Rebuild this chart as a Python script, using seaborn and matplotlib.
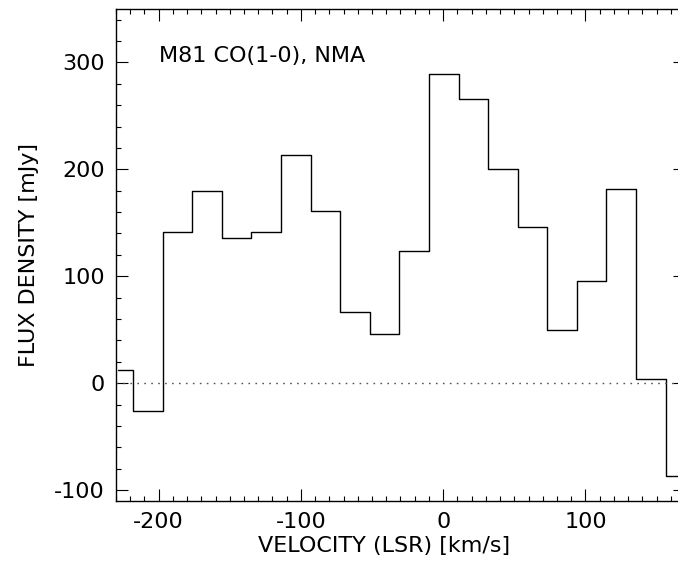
import matplotlib
matplotlib.use("Agg")
import matplotlib.pyplot as plt
import seaborn as sns
from matplotlib.ticker import MultipleLocator

# channel centres (km/s) and flux densities (mJy)
velocity = [-228.4, -207.6, -186.8, -166.0, -145.2, -124.4, -103.6, -82.8, -62.0, -41.2,
            -20.4, 0.4, 21.2, 42.0, 62.8, 83.6, 104.4, 125.2, 146.0, 166.8]
flux = [12, -26, 141, 180, 136, 141, 213, 161, 67, 46,
        124, 289, 266, 200, 146, 50, 96, 182, 4, -87]

x_ticks = [-200, -100, 0, 100]
y_ticks = [-100, 0, 100, 200, 300]

sns.set_theme(style="ticks")
plt.rcParams['font.family'] = ['DejaVu Sans']
plt.rcParams['axes.unicode_minus'] = False
plt.rcParams['text.color'] = 'black'
plt.rcParams['axes.labelcolor'] = 'black'
plt.rcParams['xtick.color'] = 'black'
plt.rcParams['ytick.color'] = 'black'

fig = plt.figure(figsize=(6.78, 5.71), dpi=100)
ax = fig.add_axes([0.1711, 0.1231, 0.8392, 0.8611])

sns.lineplot(x=velocity, y=flux, drawstyle='steps-mid', color='black', lw=1.0, ax=ax)
ax.axhline(0, color='#555555', lw=1.0, ls=(0, (1.2, 3.8)))

ax.set_xlim(-230, 170)
ax.set_ylim(-110, 350)
ax.set_xticks(x_ticks)
ax.set_yticks(y_ticks)
ax.xaxis.set_minor_locator(MultipleLocator(10))
ax.yaxis.set_minor_locator(MultipleLocator(20))
ax.tick_params(which='both', direction='in', top=True, right=True, width=0.8, color='black')
ax.tick_params(which='major', length=8.6, labelsize=16, pad=8)
ax.tick_params(which='minor', length=3.8)
for sp in ax.spines.values():
    sp.set_linewidth(1.0)
    sp.set_color('black')

ax.set_xlabel('VELOCITY (LSR) [km/s]', fontsize=16)
ax.set_ylabel('FLUX DENSITY [mJy]', fontsize=16)
ax.xaxis.set_label_coords(0.471, -0.072)
ax.yaxis.set_label_coords(-0.135, 0.5)
ax.xaxis.label.set_va('top')

ax.text(-200, 300, 'M81 CO(1-0), NMA', fontsize=16, va='baseline', ha='left')

fig.savefig('out.png', dpi=100)
